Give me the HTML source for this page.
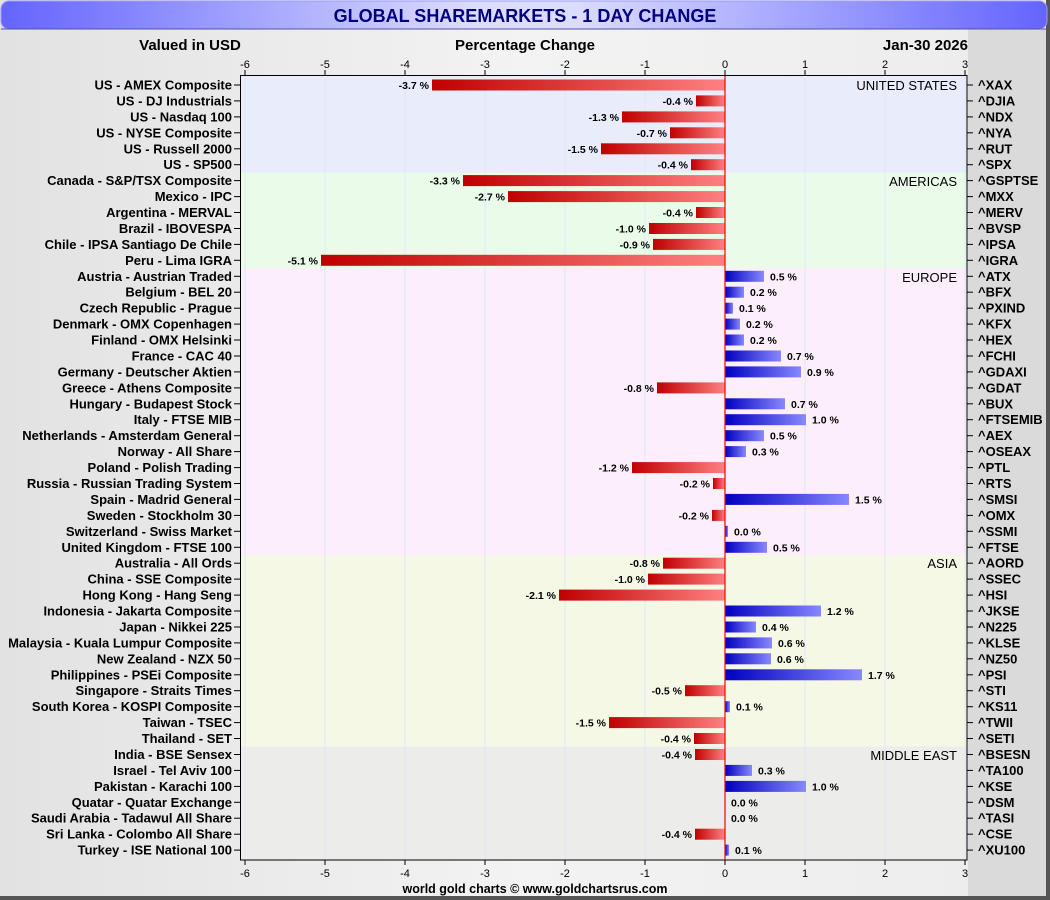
<!DOCTYPE html>
<html><head><meta charset="utf-8"><style>
html,body{margin:0;padding:0;width:1050px;height:900px;overflow:hidden;background:#eee}
svg{display:block;font-family:"Liberation Sans",Arial,sans-serif}
.l{font-size:13px;font-weight:bold;text-anchor:end;fill:#000}
.r{font-size:13px;font-weight:bold;fill:#000}
.v{font-size:10.5px;font-weight:bold;fill:#000}
.vn{font-size:10.5px;font-weight:bold;fill:#000;text-anchor:end}
.t{font-size:11px;text-anchor:middle;fill:#000}
.g{font-size:13px;text-anchor:end;fill:#000}
</style></head><body>
<svg width="1050" height="900" viewBox="0 0 1050 900">
<defs>
<linearGradient id="bg" x1="0" y1="0" x2="1" y2="0"><stop offset="0" stop-color="#e2e2e2"/><stop offset="0.5" stop-color="#f3f3f3"/><stop offset="1" stop-color="#ececec"/></linearGradient>
<linearGradient id="tb" x1="0" y1="0" x2="1" y2="0"><stop offset="0" stop-color="#6464ff"/><stop offset="0.45" stop-color="#dcdcff"/><stop offset="0.55" stop-color="#dcdcff"/><stop offset="1" stop-color="#6464ff"/></linearGradient>
<linearGradient id="red" x1="0" y1="0" x2="1" y2="0"><stop offset="0" stop-color="#c00000"/><stop offset="1" stop-color="#ff8080"/></linearGradient>
<linearGradient id="blu" x1="0" y1="0" x2="1" y2="0"><stop offset="0" stop-color="#0000c0"/><stop offset="1" stop-color="#8888ff"/></linearGradient>
</defs>
<rect x="0" y="0" width="1050" height="900" fill="url(#bg)"/>
<rect x="968" y="29" width="78" height="868" fill="#dadada"/>
<rect x="1046" y="0" width="4" height="900" fill="#555"/>
<rect x="0" y="896" width="1050" height="4" fill="#555"/>
<rect x="1" y="1" width="1046" height="28" rx="8" fill="url(#tb)" stroke="#9a9aff"/>
<line x1="1" y1="29" x2="1046" y2="29" stroke="#5050a0"/>
<text x="525" y="22" text-anchor="middle" font-size="18" font-weight="bold" fill="#000080">GLOBAL SHAREMARKETS - 1 DAY CHANGE</text>
<text x="190" y="50" text-anchor="middle" font-size="15" font-weight="bold">Valued in USD</text>
<text x="525" y="50" text-anchor="middle" font-size="15" font-weight="bold">Percentage Change</text>
<text x="968" y="50" text-anchor="end" font-size="15" font-weight="bold">Jan-30  2026</text>

<rect x="241" y="76" width="726" height="96.6" fill="#e9edfb"/>
<rect x="241" y="172.6" width="726" height="95.7" fill="#eafbea"/>
<rect x="241" y="268.3" width="726" height="286.9" fill="#fdeefb"/>
<rect x="241" y="555.2" width="726" height="191.3" fill="#f6f8e6"/>
<rect x="241" y="746.5" width="726" height="113.5" fill="#ececea"/>
<g stroke="#dfe8f5" stroke-width="1">
<line x1="245" y1="76" x2="245" y2="860"/><line x1="325" y1="76" x2="325" y2="860"/><line x1="405" y1="76" x2="405" y2="860"/><line x1="485" y1="76" x2="485" y2="860"/><line x1="565" y1="76" x2="565" y2="860"/><line x1="645" y1="76" x2="645" y2="860"/><line x1="805" y1="76" x2="805" y2="860"/><line x1="885" y1="76" x2="885" y2="860"/><line x1="965" y1="76" x2="965" y2="860"/>
</g>
<rect x="240.5" y="75.5" width="726.5" height="784.5" fill="none" stroke="#000"/>
<g stroke="#000">
<line x1="245" y1="70" x2="245" y2="75"/><line x1="325" y1="70" x2="325" y2="75"/><line x1="405" y1="70" x2="405" y2="75"/><line x1="485" y1="70" x2="485" y2="75"/><line x1="565" y1="70" x2="565" y2="75"/><line x1="645" y1="70" x2="645" y2="75"/><line x1="725" y1="70" x2="725" y2="75"/><line x1="805" y1="70" x2="805" y2="75"/><line x1="885" y1="70" x2="885" y2="75"/><line x1="965" y1="70" x2="965" y2="75"/>
<line x1="245" y1="860" x2="245" y2="865"/><line x1="325" y1="860" x2="325" y2="865"/><line x1="405" y1="860" x2="405" y2="865"/><line x1="485" y1="860" x2="485" y2="865"/><line x1="565" y1="860" x2="565" y2="865"/><line x1="645" y1="860" x2="645" y2="865"/><line x1="725" y1="860" x2="725" y2="865"/><line x1="805" y1="860" x2="805" y2="865"/><line x1="885" y1="860" x2="885" y2="865"/><line x1="965" y1="860" x2="965" y2="865"/>
</g>
<g>
<text class="t" x="245" y="68">-6</text><text class="t" x="325" y="68">-5</text><text class="t" x="405" y="68">-4</text><text class="t" x="485" y="68">-3</text><text class="t" x="565" y="68">-2</text><text class="t" x="645" y="68">-1</text><text class="t" x="725" y="68">0</text><text class="t" x="805" y="68">1</text><text class="t" x="885" y="68">2</text><text class="t" x="965" y="68">3</text>
<text class="t" x="245" y="877">-6</text><text class="t" x="325" y="877">-5</text><text class="t" x="405" y="877">-4</text><text class="t" x="485" y="877">-3</text><text class="t" x="565" y="877">-2</text><text class="t" x="645" y="877">-1</text><text class="t" x="725" y="877">0</text><text class="t" x="805" y="877">1</text><text class="t" x="885" y="877">2</text><text class="t" x="965" y="877">3</text>
</g>
<text x="535" y="893" text-anchor="middle" font-size="12.5" font-weight="bold">world gold charts © www.goldchartsrus.com</text>

<text class="g" x="957" y="90">UNITED STATES</text>
<text class="g" x="957" y="186">AMERICAS</text>
<text class="g" x="957" y="282">EUROPE</text>
<text class="g" x="957" y="568">ASIA</text>
<text class="g" x="957" y="760">MIDDLE EAST</text>

<g>
<g transform="translate(0,85)"><text class="l" x="232" y="4.5">US - AMEX Composite</text><line x1="234" x2="240" stroke="#000"/><line x1="967" x2="973" stroke="#000"/><text class="r" x="978" y="4.5">^XAX</text><rect x="432" y="-5.5" width="293" height="11" fill="url(#red)"/><text class="vn" x="429" y="4">-3.7 %</text></g>
<g transform="translate(0,100.9)"><text class="l" x="232" y="4.5">US - DJ Industrials</text><line x1="234" x2="240" stroke="#000"/><line x1="967" x2="973" stroke="#000"/><text class="r" x="978" y="4.5">^DJIA</text><rect x="696" y="-5.5" width="29" height="11" fill="url(#red)"/><text class="vn" x="693" y="4">-0.4 %</text></g>
<g transform="translate(0,116.9)"><text class="l" x="232" y="4.5">US - Nasdaq 100</text><line x1="234" x2="240" stroke="#000"/><line x1="967" x2="973" stroke="#000"/><text class="r" x="978" y="4.5">^NDX</text><rect x="622" y="-5.5" width="103" height="11" fill="url(#red)"/><text class="vn" x="619" y="4">-1.3 %</text></g>
<g transform="translate(0,132.8)"><text class="l" x="232" y="4.5">US - NYSE Composite</text><line x1="234" x2="240" stroke="#000"/><line x1="967" x2="973" stroke="#000"/><text class="r" x="978" y="4.5">^NYA</text><rect x="670" y="-5.5" width="55" height="11" fill="url(#red)"/><text class="vn" x="667" y="4">-0.7 %</text></g>
<g transform="translate(0,148.8)"><text class="l" x="232" y="4.5">US - Russell 2000</text><line x1="234" x2="240" stroke="#000"/><line x1="967" x2="973" stroke="#000"/><text class="r" x="978" y="4.5">^RUT</text><rect x="601" y="-5.5" width="124" height="11" fill="url(#red)"/><text class="vn" x="598" y="4">-1.5 %</text></g>
<g transform="translate(0,164.7)"><text class="l" x="232" y="4.5">US - SP500</text><line x1="234" x2="240" stroke="#000"/><line x1="967" x2="973" stroke="#000"/><text class="r" x="978" y="4.5">^SPX</text><rect x="691" y="-5.5" width="34" height="11" fill="url(#red)"/><text class="vn" x="688" y="4">-0.4 %</text></g>
<g transform="translate(0,180.6)"><text class="l" x="232" y="4.5">Canada - S&amp;P/TSX Composite</text><line x1="234" x2="240" stroke="#000"/><line x1="967" x2="973" stroke="#000"/><text class="r" x="978" y="4.5">^GSPTSE</text><rect x="463" y="-5.5" width="262" height="11" fill="url(#red)"/><text class="vn" x="460" y="4">-3.3 %</text></g>
<g transform="translate(0,196.6)"><text class="l" x="232" y="4.5">Mexico - IPC</text><line x1="234" x2="240" stroke="#000"/><line x1="967" x2="973" stroke="#000"/><text class="r" x="978" y="4.5">^MXX</text><rect x="508" y="-5.5" width="217" height="11" fill="url(#red)"/><text class="vn" x="505" y="4">-2.7 %</text></g>
<g transform="translate(0,212.5)"><text class="l" x="232" y="4.5">Argentina - MERVAL</text><line x1="234" x2="240" stroke="#000"/><line x1="967" x2="973" stroke="#000"/><text class="r" x="978" y="4.5">^MERV</text><rect x="696" y="-5.5" width="29" height="11" fill="url(#red)"/><text class="vn" x="693" y="4">-0.4 %</text></g>
<g transform="translate(0,228.5)"><text class="l" x="232" y="4.5">Brazil - IBOVESPA</text><line x1="234" x2="240" stroke="#000"/><line x1="967" x2="973" stroke="#000"/><text class="r" x="978" y="4.5">^BVSP</text><rect x="649" y="-5.5" width="76" height="11" fill="url(#red)"/><text class="vn" x="646" y="4">-1.0 %</text></g>
<g transform="translate(0,244.4)"><text class="l" x="232" y="4.5">Chile - IPSA Santiago De Chile</text><line x1="234" x2="240" stroke="#000"/><line x1="967" x2="973" stroke="#000"/><text class="r" x="978" y="4.5">^IPSA</text><rect x="653" y="-5.5" width="72" height="11" fill="url(#red)"/><text class="vn" x="650" y="4">-0.9 %</text></g>
<g transform="translate(0,260.3)"><text class="l" x="232" y="4.5">Peru - Lima IGRA</text><line x1="234" x2="240" stroke="#000"/><line x1="967" x2="973" stroke="#000"/><text class="r" x="978" y="4.5">^IGRA</text><rect x="321" y="-5.5" width="404" height="11" fill="url(#red)"/><text class="vn" x="318" y="4">-5.1 %</text></g>
<g transform="translate(0,276.3)"><text class="l" x="232" y="4.5">Austria - Austrian Traded</text><line x1="234" x2="240" stroke="#000"/><line x1="967" x2="973" stroke="#000"/><text class="r" x="978" y="4.5">^ATX</text><rect x="725" y="-5.5" width="39" height="11" fill="url(#blu)"/><text class="v" x="770" y="4">0.5 %</text></g>
<g transform="translate(0,292.2)"><text class="l" x="232" y="4.5">Belgium - BEL 20</text><line x1="234" x2="240" stroke="#000"/><line x1="967" x2="973" stroke="#000"/><text class="r" x="978" y="4.5">^BFX</text><rect x="725" y="-5.5" width="19" height="11" fill="url(#blu)"/><text class="v" x="750" y="4">0.2 %</text></g>
<g transform="translate(0,308.2)"><text class="l" x="232" y="4.5">Czech Republic - Prague</text><line x1="234" x2="240" stroke="#000"/><line x1="967" x2="973" stroke="#000"/><text class="r" x="978" y="4.5">^PXIND</text><rect x="725" y="-5.5" width="8" height="11" fill="url(#blu)"/><text class="v" x="739" y="4">0.1 %</text></g>
<g transform="translate(0,324.1)"><text class="l" x="232" y="4.5">Denmark - OMX Copenhagen</text><line x1="234" x2="240" stroke="#000"/><line x1="967" x2="973" stroke="#000"/><text class="r" x="978" y="4.5">^KFX</text><rect x="725" y="-5.5" width="15" height="11" fill="url(#blu)"/><text class="v" x="746" y="4">0.2 %</text></g>
<g transform="translate(0,340)"><text class="l" x="232" y="4.5">Finland - OMX Helsinki</text><line x1="234" x2="240" stroke="#000"/><line x1="967" x2="973" stroke="#000"/><text class="r" x="978" y="4.5">^HEX</text><rect x="725" y="-5.5" width="19" height="11" fill="url(#blu)"/><text class="v" x="750" y="4">0.2 %</text></g>
<g transform="translate(0,356)"><text class="l" x="232" y="4.5">France - CAC 40</text><line x1="234" x2="240" stroke="#000"/><line x1="967" x2="973" stroke="#000"/><text class="r" x="978" y="4.5">^FCHI</text><rect x="725" y="-5.5" width="56" height="11" fill="url(#blu)"/><text class="v" x="787" y="4">0.7 %</text></g>
<g transform="translate(0,371.9)"><text class="l" x="232" y="4.5">Germany - Deutscher Aktien</text><line x1="234" x2="240" stroke="#000"/><line x1="967" x2="973" stroke="#000"/><text class="r" x="978" y="4.5">^GDAXI</text><rect x="725" y="-5.5" width="76" height="11" fill="url(#blu)"/><text class="v" x="807" y="4">0.9 %</text></g>
<g transform="translate(0,387.9)"><text class="l" x="232" y="4.5">Greece - Athens Composite</text><line x1="234" x2="240" stroke="#000"/><line x1="967" x2="973" stroke="#000"/><text class="r" x="978" y="4.5">^GDAT</text><rect x="657" y="-5.5" width="68" height="11" fill="url(#red)"/><text class="vn" x="654" y="4">-0.8 %</text></g>
<g transform="translate(0,403.8)"><text class="l" x="232" y="4.5">Hungary - Budapest Stock</text><line x1="234" x2="240" stroke="#000"/><line x1="967" x2="973" stroke="#000"/><text class="r" x="978" y="4.5">^BUX</text><rect x="725" y="-5.5" width="60" height="11" fill="url(#blu)"/><text class="v" x="791" y="4">0.7 %</text></g>
<g transform="translate(0,419.7)"><text class="l" x="232" y="4.5">Italy - FTSE MIB</text><line x1="234" x2="240" stroke="#000"/><line x1="967" x2="973" stroke="#000"/><text class="r" x="978" y="4.5">^FTSEMIB</text><rect x="725" y="-5.5" width="81" height="11" fill="url(#blu)"/><text class="v" x="812" y="4">1.0 %</text></g>
<g transform="translate(0,435.7)"><text class="l" x="232" y="4.5">Netherlands - Amsterdam General</text><line x1="234" x2="240" stroke="#000"/><line x1="967" x2="973" stroke="#000"/><text class="r" x="978" y="4.5">^AEX</text><rect x="725" y="-5.5" width="39" height="11" fill="url(#blu)"/><text class="v" x="770" y="4">0.5 %</text></g>
<g transform="translate(0,451.6)"><text class="l" x="232" y="4.5">Norway - All Share</text><line x1="234" x2="240" stroke="#000"/><line x1="967" x2="973" stroke="#000"/><text class="r" x="978" y="4.5">^OSEAX</text><rect x="725" y="-5.5" width="21" height="11" fill="url(#blu)"/><text class="v" x="752" y="4">0.3 %</text></g>
<g transform="translate(0,467.6)"><text class="l" x="232" y="4.5">Poland - Polish Trading</text><line x1="234" x2="240" stroke="#000"/><line x1="967" x2="973" stroke="#000"/><text class="r" x="978" y="4.5">^PTL</text><rect x="632" y="-5.5" width="93" height="11" fill="url(#red)"/><text class="vn" x="629" y="4">-1.2 %</text></g>
<g transform="translate(0,483.5)"><text class="l" x="232" y="4.5">Russia - Russian Trading System</text><line x1="234" x2="240" stroke="#000"/><line x1="967" x2="973" stroke="#000"/><text class="r" x="978" y="4.5">^RTS</text><rect x="713" y="-5.5" width="12" height="11" fill="url(#red)"/><text class="vn" x="710" y="4">-0.2 %</text></g>
<g transform="translate(0,499.4)"><text class="l" x="232" y="4.5">Spain - Madrid General</text><line x1="234" x2="240" stroke="#000"/><line x1="967" x2="973" stroke="#000"/><text class="r" x="978" y="4.5">^SMSI</text><rect x="725" y="-5.5" width="124" height="11" fill="url(#blu)"/><text class="v" x="855" y="4">1.5 %</text></g>
<g transform="translate(0,515.4)"><text class="l" x="232" y="4.5">Sweden - Stockholm 30</text><line x1="234" x2="240" stroke="#000"/><line x1="967" x2="973" stroke="#000"/><text class="r" x="978" y="4.5">^OMX</text><rect x="712" y="-5.5" width="13" height="11" fill="url(#red)"/><text class="vn" x="709" y="4">-0.2 %</text></g>
<g transform="translate(0,531.3)"><text class="l" x="232" y="4.5">Switzerland - Swiss Market</text><line x1="234" x2="240" stroke="#000"/><line x1="967" x2="973" stroke="#000"/><text class="r" x="978" y="4.5">^SSMI</text><rect x="725" y="-5.5" width="3" height="11" fill="url(#blu)"/><text class="v" x="734" y="4">0.0 %</text></g>
<g transform="translate(0,547.3)"><text class="l" x="232" y="4.5">United Kingdom - FTSE 100</text><line x1="234" x2="240" stroke="#000"/><line x1="967" x2="973" stroke="#000"/><text class="r" x="978" y="4.5">^FTSE</text><rect x="725" y="-5.5" width="42" height="11" fill="url(#blu)"/><text class="v" x="773" y="4">0.5 %</text></g>
<g transform="translate(0,563.2)"><text class="l" x="232" y="4.5">Australia - All Ords</text><line x1="234" x2="240" stroke="#000"/><line x1="967" x2="973" stroke="#000"/><text class="r" x="978" y="4.5">^AORD</text><rect x="663" y="-5.5" width="62" height="11" fill="url(#red)"/><text class="vn" x="660" y="4">-0.8 %</text></g>
<g transform="translate(0,579.1)"><text class="l" x="232" y="4.5">China - SSE Composite</text><line x1="234" x2="240" stroke="#000"/><line x1="967" x2="973" stroke="#000"/><text class="r" x="978" y="4.5">^SSEC</text><rect x="648" y="-5.5" width="77" height="11" fill="url(#red)"/><text class="vn" x="645" y="4">-1.0 %</text></g>
<g transform="translate(0,595.1)"><text class="l" x="232" y="4.5">Hong Kong - Hang Seng</text><line x1="234" x2="240" stroke="#000"/><line x1="967" x2="973" stroke="#000"/><text class="r" x="978" y="4.5">^HSI</text><rect x="559" y="-5.5" width="166" height="11" fill="url(#red)"/><text class="vn" x="556" y="4">-2.1 %</text></g>
<g transform="translate(0,611)"><text class="l" x="232" y="4.5">Indonesia - Jakarta Composite</text><line x1="234" x2="240" stroke="#000"/><line x1="967" x2="973" stroke="#000"/><text class="r" x="978" y="4.5">^JKSE</text><rect x="725" y="-5.5" width="96" height="11" fill="url(#blu)"/><text class="v" x="827" y="4">1.2 %</text></g>
<g transform="translate(0,627)"><text class="l" x="232" y="4.5">Japan - Nikkei 225</text><line x1="234" x2="240" stroke="#000"/><line x1="967" x2="973" stroke="#000"/><text class="r" x="978" y="4.5">^N225</text><rect x="725" y="-5.5" width="31" height="11" fill="url(#blu)"/><text class="v" x="762" y="4">0.4 %</text></g>
<g transform="translate(0,642.9)"><text class="l" x="232" y="4.5">Malaysia - Kuala Lumpur Composite</text><line x1="234" x2="240" stroke="#000"/><line x1="967" x2="973" stroke="#000"/><text class="r" x="978" y="4.5">^KLSE</text><rect x="725" y="-5.5" width="47" height="11" fill="url(#blu)"/><text class="v" x="778" y="4">0.6 %</text></g>
<g transform="translate(0,658.8)"><text class="l" x="232" y="4.5">New Zealand - NZX 50</text><line x1="234" x2="240" stroke="#000"/><line x1="967" x2="973" stroke="#000"/><text class="r" x="978" y="4.5">^NZ50</text><rect x="725" y="-5.5" width="46" height="11" fill="url(#blu)"/><text class="v" x="777" y="4">0.6 %</text></g>
<g transform="translate(0,674.8)"><text class="l" x="232" y="4.5">Philippines - PSEi Composite</text><line x1="234" x2="240" stroke="#000"/><line x1="967" x2="973" stroke="#000"/><text class="r" x="978" y="4.5">^PSI</text><rect x="725" y="-5.5" width="137" height="11" fill="url(#blu)"/><text class="v" x="868" y="4">1.7 %</text></g>
<g transform="translate(0,690.7)"><text class="l" x="232" y="4.5">Singapore - Straits Times</text><line x1="234" x2="240" stroke="#000"/><line x1="967" x2="973" stroke="#000"/><text class="r" x="978" y="4.5">^STI</text><rect x="685" y="-5.5" width="40" height="11" fill="url(#red)"/><text class="vn" x="682" y="4">-0.5 %</text></g>
<g transform="translate(0,706.7)"><text class="l" x="232" y="4.5">South Korea - KOSPI Composite</text><line x1="234" x2="240" stroke="#000"/><line x1="967" x2="973" stroke="#000"/><text class="r" x="978" y="4.5">^KS11</text><rect x="725" y="-5.5" width="5" height="11" fill="url(#blu)"/><text class="v" x="736" y="4">0.1 %</text></g>
<g transform="translate(0,722.6)"><text class="l" x="232" y="4.5">Taiwan - TSEC</text><line x1="234" x2="240" stroke="#000"/><line x1="967" x2="973" stroke="#000"/><text class="r" x="978" y="4.5">^TWII</text><rect x="609" y="-5.5" width="116" height="11" fill="url(#red)"/><text class="vn" x="606" y="4">-1.5 %</text></g>
<g transform="translate(0,738.5)"><text class="l" x="232" y="4.5">Thailand - SET</text><line x1="234" x2="240" stroke="#000"/><line x1="967" x2="973" stroke="#000"/><text class="r" x="978" y="4.5">^SETI</text><rect x="694" y="-5.5" width="31" height="11" fill="url(#red)"/><text class="vn" x="691" y="4">-0.4 %</text></g>
<g transform="translate(0,754.5)"><text class="l" x="232" y="4.5">India - BSE Sensex</text><line x1="234" x2="240" stroke="#000"/><line x1="967" x2="973" stroke="#000"/><text class="r" x="978" y="4.5">^BSESN</text><rect x="695" y="-5.5" width="30" height="11" fill="url(#red)"/><text class="vn" x="692" y="4">-0.4 %</text></g>
<g transform="translate(0,770.4)"><text class="l" x="232" y="4.5">Israel - Tel Aviv 100</text><line x1="234" x2="240" stroke="#000"/><line x1="967" x2="973" stroke="#000"/><text class="r" x="978" y="4.5">^TA100</text><rect x="725" y="-5.5" width="27" height="11" fill="url(#blu)"/><text class="v" x="758" y="4">0.3 %</text></g>
<g transform="translate(0,786.4)"><text class="l" x="232" y="4.5">Pakistan - Karachi 100</text><line x1="234" x2="240" stroke="#000"/><line x1="967" x2="973" stroke="#000"/><text class="r" x="978" y="4.5">^KSE</text><rect x="725" y="-5.5" width="81" height="11" fill="url(#blu)"/><text class="v" x="812" y="4">1.0 %</text></g>
<g transform="translate(0,802.3)"><text class="l" x="232" y="4.5">Quatar - Quatar Exchange</text><line x1="234" x2="240" stroke="#000"/><line x1="967" x2="973" stroke="#000"/><text class="r" x="978" y="4.5">^DSM</text><text class="v" x="731" y="4">0.0 %</text></g>
<g transform="translate(0,818.2)"><text class="l" x="232" y="4.5">Saudi Arabia - Tadawul All Share</text><line x1="234" x2="240" stroke="#000"/><line x1="967" x2="973" stroke="#000"/><text class="r" x="978" y="4.5">^TASI</text><text class="v" x="731" y="4">0.0 %</text></g>
<g transform="translate(0,834.2)"><text class="l" x="232" y="4.5">Sri Lanka - Colombo All Share</text><line x1="234" x2="240" stroke="#000"/><line x1="967" x2="973" stroke="#000"/><text class="r" x="978" y="4.5">^CSE</text><rect x="695" y="-5.5" width="30" height="11" fill="url(#red)"/><text class="vn" x="692" y="4">-0.4 %</text></g>
<g transform="translate(0,850.1)"><text class="l" x="232" y="4.5">Turkey - ISE National 100</text><line x1="234" x2="240" stroke="#000"/><line x1="967" x2="973" stroke="#000"/><text class="r" x="978" y="4.5">^XU100</text><rect x="725" y="-5.5" width="4" height="11" fill="url(#blu)"/><text class="v" x="735" y="4">0.1 %</text></g>
</g>
<line x1="725" y1="76" x2="725" y2="860" stroke="#ff0000" stroke-width="1.2"/>
</svg>
</body></html>
